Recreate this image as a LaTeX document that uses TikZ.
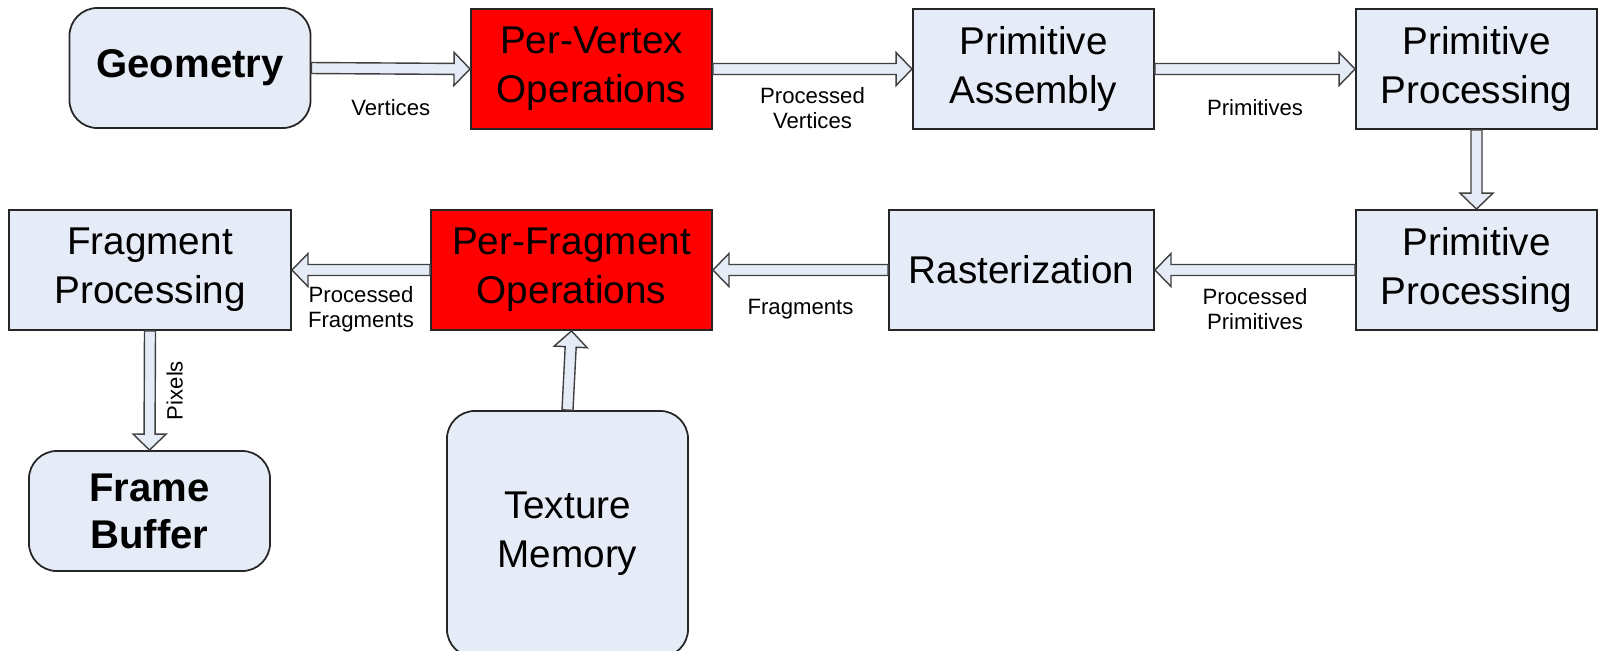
\documentclass[tikz,border=0pt]{standalone}
\usepackage{fontspec}
\setmainfont{Liberation Sans}
\usetikzlibrary{calc}
\definecolor{paleblue}{RGB}{230,236,247}
\definecolor{stagered}{RGB}{255,0,0}

% hollow block arrow from #1 to #2
\newcommand{\pipearrow}[2]{%
  \coordinate (tipbase) at ($#2!0.16cm!#1$);
  \draw[pipe] ($#1!0.055cm!90:#2$) -- ($(tipbase)!0.055cm!-90:#1$)
    -- ($(tipbase)!0.165cm!-90:#1$) -- #2 -- ($(tipbase)!0.165cm!90:#1$)
    -- ($(tipbase)!0.055cm!90:#1$) -- ($#1!0.055cm!-90:#2$) -- cycle;
}

\begin{document}
\begin{tikzpicture}[x=0.01cm, y=-0.01cm,
    stage/.style={draw=black!85, line width=0.5pt, fill=paleblue, minimum width=2.41cm, minimum height=1.2cm, align=center, inner sep=0pt, font=\fontsize{11}{14}\selectfont},
    hot/.style={stage, fill=stagered},
    store/.style={stage, rounded corners=0.28cm},
    heavy/.style={font=\fontsize{11.4}{13.4}\selectfont\bfseries},
    pipe/.style={draw=black!75, line width=0.4pt, fill=paleblue},
    lbl/.style={font=\fontsize{6.3}{7.1}\selectfont, align=center, inner sep=0pt},
    under/.style={lbl, yshift=-0.39cm}
]
\useasboundingbox (0,0) rectangle (1599,650);

% top row
\node[store, heavy] (geo) at (190,68) {Geometry};
\node[hot] (pv) at (591.5,69) {Per-Vertex\\Operations};
\node[stage] (pa) at (1033.5,69) {Primitive\\Assembly};
\node[stage] (pp) at (1476.5,69) {Primitive\\Processing};

% second row
\node[stage] (pp2) at (1476.5,270) {Primitive\\Processing};
\node[stage, minimum width=2.65cm] (rast) at (1021.5,270) {Rasterization};
\node[hot, minimum width=2.81cm] (pf) at (571.5,270) {Per-Fragment\\Operations};
\node[stage, minimum width=2.82cm] (fp) at (150,270) {Fragment\\Processing};

% bottom
\node[store, heavy] (fb) at (149.5,511) {Frame\\Buffer};
\node[store, minimum height=2.46cm] (tex) at (567.5,534) {Texture\\Memory};

\pipearrow{(geo.east)}{(pv.west)}
\pipearrow{(pv.east)}{(pa.west)}
\pipearrow{(pa.east)}{(pp.west)}
\pipearrow{(pp.south)}{(pp2.north)}
\pipearrow{(pp2.west)}{(rast.east)}
\pipearrow{(rast.west)}{(pf.east)}
\pipearrow{(pf.west)}{(fp.east)}
\pipearrow{(fp.south)}{(fb.north)}
\pipearrow{(tex.north)}{(pf.south)}

\path (geo.east) -- node[under] {Vertices} (pv.west);
\path (pv.east) -- node[under] {Processed\\Vertices} (pa.west);
\path (pa.east) -- node[under] {Primitives} (pp.west);
\path (pp2.west) -- node[under] {Processed\\Primitives} (rast.east);
\path (rast.west) -- node[under] {Fragments} (pf.east);
\path (pf.west) -- node[under] {Processed\\Fragments} (fp.east);
\path ($(fp.south)+(25,0)$) -- node[lbl, rotate=90] {Pixels} ($(fb.north)+(25,0)$);
\end{tikzpicture}
\end{document}
